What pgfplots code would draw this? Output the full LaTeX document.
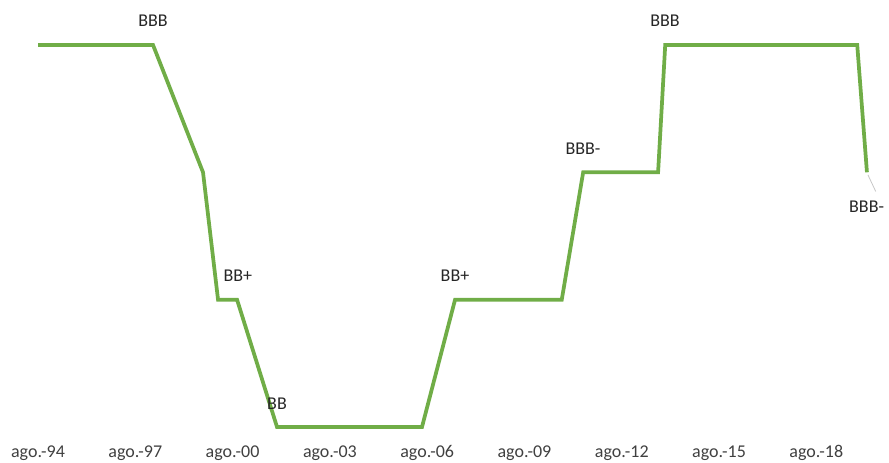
\documentclass[border=0pt]{standalone}
\usepackage{fontspec}
\setmainfont{Carlito}
\usepackage{pgfplots}
\pgfplotsset{compat=1.18}
\definecolor{lgreen}{HTML}{70AD47}
\definecolor{ltick}{HTML}{404040}
% x: years since ago-94, y: 0=BB 1=BB+ 2=BBB- 3=BBB
\begin{document}
\begin{tikzpicture}
\begin{axis}[
  scale only axis,
  width=666.75pt, height=330pt,
  xmin=-1.172, xmax=26.24,
  ymin=-0.102, ymax=3.353,
  axis line style={draw=none},
  ytick=\empty,
  xtick={0,3,6,9,12,15,18,21,24},
  xticklabels={ago.-94,ago.-97,ago.-00,ago.-03,ago.-06,ago.-09,ago.-12,ago.-15,ago.-18},
  major tick length=0pt,
  xticklabel style={font=\fontsize{13.5}{15}\selectfont, text=ltick, anchor=base, inner sep=0pt, yshift=-12.75pt},
  clip=false,
]
\addplot[lgreen, line width=2.8pt, mark=none, line join=miter] coordinates {
 (0,3) (3.546,3) (5.088,2) (5.551,1) (6.137,1) (7.37,0) (11.84,0)
 (12.86,1) (16.15,1) (16.81,2) (19.12,2) (19.34,3) (25.26,3) (25.56,2)};
\draw[gray!45, line width=0.6pt] (axis cs:25.59,1.98) -- (axis cs:25.83,1.85);
\begin{scope}[every node/.style={font=\fontsize{13.5}{15}\selectfont, text=black!85, inner sep=0pt, anchor=base}]
\node at (axis cs:3.546,3.144) {BBB};
\node at (axis cs:6.16,1.141) {BB+};
\node at (axis cs:7.37,0.134) {BB};
\node at (axis cs:12.858,1.141) {BB+};
\node at (axis cs:16.806,2.136) {BBB-};
\node at (axis cs:19.334,3.144) {BBB};
\node at (axis cs:25.55,1.683) {BBB-};
\end{scope}
\end{axis}
\pgfresetboundingbox
\path (0,-16.5pt) rectangle (666.75pt,330pt);
\end{tikzpicture}
\end{document}
